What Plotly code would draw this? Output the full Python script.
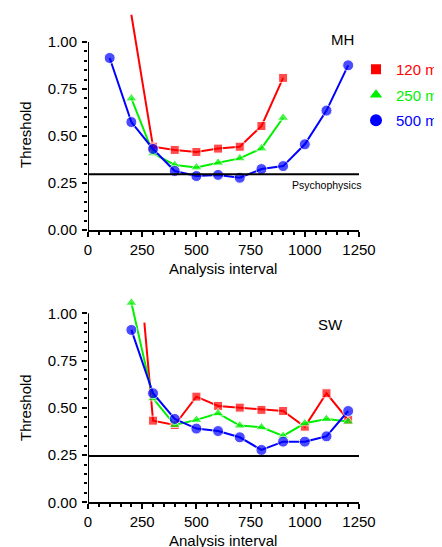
import plotly.graph_objects as go

# ---------------- data ----------------
interval_mh_red = [200, 300, 400, 500, 600, 700, 800, 900]
mh_120 = [1.145, 0.443, 0.426, 0.415, 0.433, 0.443, 0.553, 0.809]
interval_mh_green = [200, 300, 400, 500, 600, 700, 800, 900]
mh_250 = [0.70, 0.408, 0.346, 0.333, 0.358, 0.381, 0.434, 0.597]
interval_mh_blue = [100, 200, 300, 400, 500, 600, 700, 800, 900, 1000, 1100, 1200]
mh_500 = [0.915, 0.574, 0.431, 0.314, 0.287, 0.293, 0.278, 0.324, 0.340, 0.456, 0.635, 0.876]
mh_psychophysics = 0.296

interval_sw_red = [260, 300, 400, 500, 600, 700, 800, 900, 1000, 1100, 1200]
sw_120 = [0.951, 0.432, 0.409, 0.559, 0.510, 0.501, 0.489, 0.483, 0.400, 0.577, 0.436]
interval_sw = [200, 300, 400, 500, 600, 700, 800, 900, 1000, 1100, 1200]
sw_250 = [1.056, 0.55, 0.409, 0.436, 0.471, 0.406, 0.397, 0.351, 0.418, 0.441, 0.427]
sw_500 = [0.912, 0.577, 0.441, 0.390, 0.377, 0.344, 0.277, 0.321, 0.321, 0.349, 0.483]
sw_psychophysics = 0.245

series_names = ["120 ms", "250 ms", "500 ms"]
series_colors = ["#FF0000", "#00F000", "#0000FF"]
series_symbols = ["square", "triangle-up", "circle"]
series_sizes = [9, 10, 11]

x_tickvals = [0, 250, 500, 750, 1000, 1250]
x_ticktext = ["0", "250", "500", "750", "1000", "1250"]
x_minor = [v for v in range(50, 1250, 50) if v % 250]
y_tickvals = [0, 0.25, 0.5, 0.75, 1.0]
y_ticktext = ["0.00", "0.25", "0.50", "0.75", "1.00"]
y_minor = [round(v * 0.05, 2) for v in range(1, 20) if v % 5]

FONT = "Liberation Sans, Arial, sans-serif"

# figure is drawn inside the page's 8px body margin
W, H = 434, 539
ML, MR = 80, 83
PW = W - ML - MR


def px_x(page_x):
    return (page_x - 8 - ML) / PW


def px_y(page_y):
    return (H - (page_y - 8)) / H


fig = go.Figure()

panels = [
    ("x", "y", [interval_mh_red, interval_mh_green, interval_mh_blue], [mh_120, mh_250, mh_500]),
    ("x2", "y2", [interval_sw_red, interval_sw, interval_sw], [sw_120, sw_250, sw_500]),
]
for xa, ya, xs, ys in panels:
    for i in range(3):
        n = len(xs[i])
        sizes = [series_sizes[i]] * n
        if i == 0:
            sizes[0] = 0
        fig.add_trace(go.Scatter(
            x=xs[i], y=ys[i], xaxis=xa, yaxis=ya, mode="lines+markers",
            line=dict(color=series_colors[i], width=2),
            marker=dict(color=series_colors[i], symbol=series_symbols[i], size=sizes),
            showlegend=False, hoverinfo="skip"))

# legend-only traces
for i in range(3):
    fig.add_trace(go.Scatter(
        x=[None], y=[None], mode="markers",
        name=f"<span style='color:{series_colors[i]}'>{series_names[i]}</span>",
        marker=dict(color=series_colors[i], symbol=series_symbols[i], size=series_sizes[i] + 1),
        legendgroup=series_names[i], showlegend=True))

axis_common = dict(
    range=[0, 1250], showline=True, linecolor="black", linewidth=2,
    ticks="outside", ticklen=5, tickwidth=2, tickcolor="black",
    tickvals=x_tickvals, ticktext=x_ticktext, showgrid=False, zeroline=False,
    tickfont=dict(family=FONT, size=15, color="black"),
    minor=dict(tickmode="array", tickvals=x_minor, ticks="outside", ticklen=3, tickwidth=1.5, tickcolor="black"),
    automargin=False,
)
yaxis_common = dict(
    showline=False, ticks="outside", ticklen=5, tickwidth=2, tickcolor="black",
    tickvals=y_tickvals, ticktext=y_ticktext, showgrid=False, zeroline=False,
    tickfont=dict(family=FONT, size=15, color="black"),
    minor=dict(tickmode="array", tickvals=y_minor, ticks="outside", ticklen=3, tickwidth=1.5, tickcolor="black"),
    automargin=False, ticklabelstandoff=2,
)

# panel geometry (page pixels): top panel 0 at y=230, 188 px per unit; bottom 0 at 502.3, 189 px per unit
top_bottom = px_y(230)
top_range = (230 - 8) / 188
bot_bottom = px_y(502.3)
bot_top = px_y(502.3 - 1.1 * 189)

fig.update_layout(
    width=W, height=H,
    margin=dict(l=ML, r=MR, t=0, b=0, autoexpand=False),
    paper_bgcolor="white", plot_bgcolor="white",
    font=dict(family=FONT, size=15, color="black"),
    xaxis=dict(domain=[0, 1], anchor="y", **axis_common),
    yaxis=dict(domain=[top_bottom, 1.0], anchor="x", range=[0, top_range], **yaxis_common),
    xaxis2=dict(domain=[0, 1], anchor="y2", **axis_common),
    yaxis2=dict(domain=[bot_bottom, bot_top], anchor="x2", range=[0, 1.1], **yaxis_common),
    legend=dict(x=px_x(356), y=px_y(53), xanchor="left", yanchor="top", bgcolor="rgba(0,0,0,0)",
                font=dict(family=FONT, size=15), traceorder="grouped", tracegroupgap=3,
                itemwidth=30),
    showlegend=True,
)

# y-axis lines from 0 to 1.00
for xr, yr in [("x", "y"), ("x2", "y2")]:
    fig.add_shape(type="line", xref=xr, yref=yr, x0=0, x1=0, y0=0, y1=1.0,
                  line=dict(color="black", width=2))

# psychophysics lines
fig.add_shape(type="line", xref="x domain", yref="y", x0=0, x1=1, y0=mh_psychophysics, y1=mh_psychophysics,
              line=dict(color="black", width=2))
fig.add_shape(type="line", xref="x2 domain", yref="y2", x0=0, x1=1, y0=sw_psychophysics, y1=sw_psychophysics,
              line=dict(color="black", width=2))

center = dict(xanchor="center", yanchor="middle", showarrow=False, xref="paper", yref="paper")
annotations = [
    dict(text="Psychophysics", xref="x domain", yref="y", x=1.015, y=mh_psychophysics, xanchor="right",
         yanchor="top", yshift=-3, showarrow=False, font=dict(size=10.5)),
    dict(text="MH", x=px_x(342), y=px_y(39), font=dict(size=15), **center),
    dict(text="SW", x=px_x(330), y=px_y(325), font=dict(size=15), **center),
    dict(text="Analysis interval", x=px_x(223), y=px_y(268), font=dict(size=15), **center),
    dict(text="Analysis interval", x=px_x(223), y=px_y(540), font=dict(size=15), **center),
    dict(text="Threshold", x=px_x(25), y=px_y(135), textangle=-90, font=dict(size=15), **center),
    dict(text="Threshold", x=px_x(25), y=px_y(408), textangle=-90, font=dict(size=15), **center),
]
fig.update_layout(annotations=annotations)

fig.write_html("out.html")
